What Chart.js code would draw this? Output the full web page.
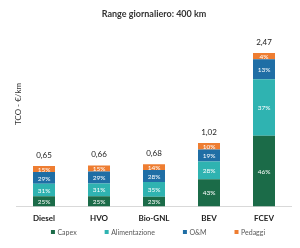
<!DOCTYPE html>
<html>
<head>
<meta charset="utf-8">
<script src="https://cdn.jsdelivr.net/npm/chart.js@4"></script>
<style>
  body { margin: 0; background: #fff; }
  #wrap { width: 300px; height: 248px; }
</style>
</head>
<body>
<div id="wrap"><canvas id="chart"></canvas></div>
<script>
// DATA
const categories = ["Diesel", "HVO", "Bio-GNL", "BEV", "FCEV"];
const totals = [0.65, 0.66, 0.68, 1.02, 2.47];
const capexPct = [25, 25, 23, 43, 46];
const alimPct = [31, 31, 35, 28, 37];
const omPct = [29, 29, 28, 19, 13];
const pedaggiPct = [15, 15, 14, 10, 4];

const seriesNames = ["Capex", "Alimentazione", "O&M", "Pedaggi"];
const seriesPct = [capexPct, alimPct, omPct, pedaggiPct];
const colors = ["#1b6b48", "#2fb3b1", "#1f6ea5", "#ee7d31"];

const FONT = "Lato";

const datasets = seriesNames.map((name, s) => ({
  label: name,
  data: totals.map((t, i) => t * seriesPct[s][i] / 100),
  pct: seriesPct[s],
  backgroundColor: colors[s],
  borderWidth: 0,
  barPercentage: 0.4,
  categoryPercentage: 1
}));

// percent labels inside segments + totals on top
const labelsPlugin = {
  id: "labels",
  afterDatasetsDraw(chart) {
    const ctx = chart.ctx;
    ctx.save();
    ctx.textAlign = "center";
    ctx.textBaseline = "middle";
    ctx.font = "6.5px " + FONT;
    ctx.fillStyle = "#ffffff";
    chart.data.datasets.forEach((ds, s) => {
      chart.getDatasetMeta(s).data.forEach((bar, i) => {
        const mid = (bar.y + bar.base) / 2;
        ctx.fillText(ds.pct[i] + "%", bar.x, mid + 0.5);
      });
    });
    const last = chart.getDatasetMeta(chart.data.datasets.length - 1).data;
    ctx.font = "8px " + FONT;
    ctx.fillStyle = "#222";
    last.forEach((bar, i) => {
      ctx.fillText(totals[i].toFixed(2).replace(".", ","), bar.x, bar.y - 11);
    });
    ctx.restore();
  }
};

// y axis title + legend
const extrasPlugin = {
  id: "extras",
  afterDraw(chart) {
    const ctx = chart.ctx;
    ctx.save();
    ctx.translate(18, 104);
    ctx.rotate(-Math.PI / 2);
    ctx.textAlign = "center";
    ctx.textBaseline = "middle";
    ctx.font = "8px " + FONT;
    ctx.fillStyle = "#333";
    ctx.fillText("TCO - €/km", 0, 0);
    ctx.restore();

    ctx.save();
    ctx.font = "7px " + FONT;
    ctx.textBaseline = "middle";
    const gap = 28, box = 4, textGap = 2.5;
    const widths = seriesNames.map(n => box + textGap + ctx.measureText(n).width);
    const total = widths.reduce((a, b) => a + b, 0) + gap * (widths.length - 1);
    let x = 158 - total / 2;
    const y = 232;
    seriesNames.forEach((n, s) => {
      ctx.fillStyle = colors[s];
      ctx.fillRect(x, y - box / 2, box, box);
      ctx.fillStyle = "#595959";
      ctx.fillText(n, x + box + textGap, y + 0.5);
      x += widths[s] + gap;
    });
    ctx.restore();
  }
};

new Chart(document.getElementById("chart"), {
  type: "bar",
  data: { labels: categories, datasets },
  options: {
    responsive: true,
    maintainAspectRatio: false,
    animation: false,
    layout: { padding: { left: 16.5, right: 8.5, bottom: 18 } },
    plugins: {
      legend: { display: false },
      tooltip: { enabled: false },
      title: {
        display: true,
        text: "Range giornaliero: 400 km",
        color: "#333",
        font: { family: FONT, size: 9, weight: "bold" },
        padding: { top: 9, bottom: 19 }
      }
    },
    scales: {
      x: {
        stacked: true,
        grid: { display: false, drawTicks: false },
        border: { display: true, color: "#d9d9d9", width: 1 },
        ticks: { color: "#222", padding: 7, font: { family: FONT, size: 8, weight: "bold" } }
      },
      y: {
        stacked: true,
        display: false,
        min: 0,
        max: 2.7
      }
    }
  },
  plugins: [labelsPlugin, extrasPlugin]
});
</script>
</body>
</html>
